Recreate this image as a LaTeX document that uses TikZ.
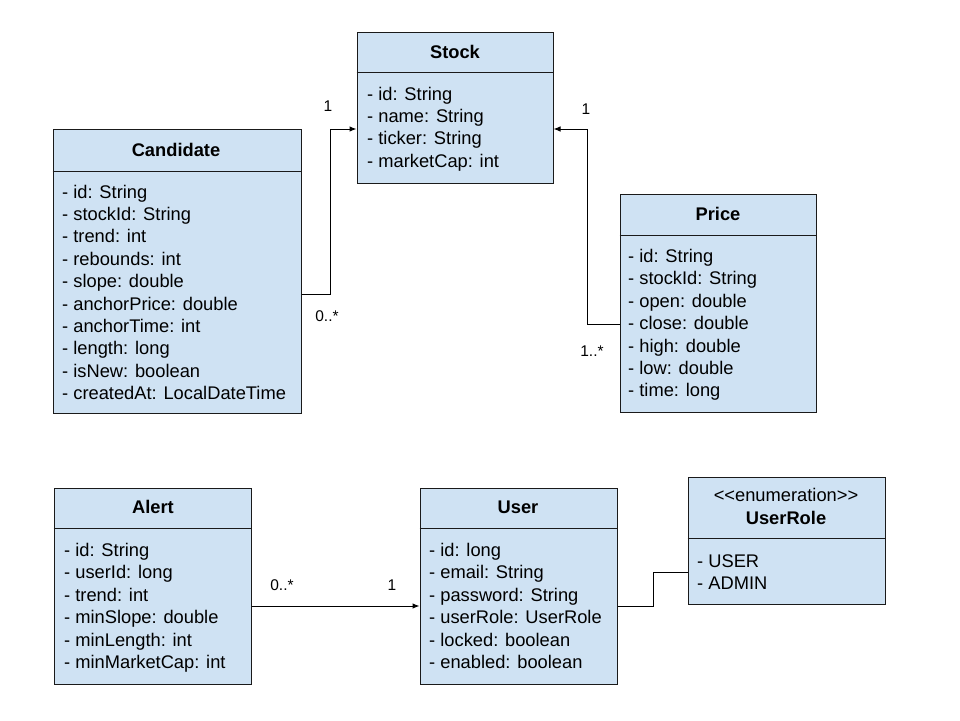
\documentclass[tikz,border=0pt]{standalone}
\usepackage{fontspec}
\newfontfamily\uf{Liberation Sans}
\usetikzlibrary{arrows.meta}
\definecolor{clsfill}{HTML}{CFE2F3}
\definecolor{clsline}{HTML}{1A1A1A}
\tikzset{
  cls/.style={draw=clsline, fill=clsfill, line width=1pt, rectangle, inner sep=0pt},
  divider/.style={draw=clsline, line width=1pt},
  ttl/.style={font=\uf\bfseries\fontsize{18.3}{22}\selectfont, inner sep=0pt, anchor=base},
  attr/.style={font=\uf\fontsize{18.3}{22}\selectfont, inner sep=0pt, anchor=base west},
  lbl/.style={font=\uf\fontsize{15.5}{18}\selectfont, inner sep=0pt},
  conn/.style={draw=black, line width=1pt},
  arr/.style={conn, -{Latex[length=7pt,width=5.5pt]}}
}
\newcommand\attrs[4]{%
  \foreach \t [count=\i] in {#4} {\node[attr] (#1\i) at (#2, {#3+22.4*(\i-1)}) {\t};}}
\begin{document}
\begin{tikzpicture}[x=1pt,y=-1pt]
\useasboundingbox (0,0) rectangle (960,720);
% Stock
\node[cls, minimum width=196pt, minimum height=151pt] (stock) at (455,107.5) {};
\draw[divider] (stock.west |- 0,72) -- (stock.east |- 0,72);
\node[ttl] (stockT) at (455,58) {Stock};
\attrs{stA}{367}{100}{- id: String,- name: String,- ticker: String,- marketCap: int}
% Candidate
\node[cls, minimum width=248pt, minimum height=284pt] (cand) at (177,271) {};
\draw[divider] (cand.west |- 0,171) -- (cand.east |- 0,171);
\node[ttl] (candT) at (176,156.5) {Candidate};
\attrs{caA}{62}{198}{- id: String,- stockId: String,- trend: int,- rebounds: int,- slope: double,- anchorPrice: double,- anchorTime: int,- length: long,- isNew: boolean,- createdAt: LocalDateTime}
% Price
\node[cls, minimum width=196pt, minimum height=218pt] (price) at (718,303) {};
\draw[divider] (price.west |- 0,235) -- (price.east |- 0,235);
\node[ttl] (priceT) at (718,220) {Price};
\attrs{prA}{628}{262.5}{- id: String,- stockId: String,- open: double,- close: double,- high: double,- low: double,- time: long}
% Alert
\node[cls, minimum width=197pt, minimum height=196pt] (alert) at (152.5,586) {};
\draw[divider] (alert.west |- 0,528) -- (alert.east |- 0,528);
\node[ttl] (alertT) at (153,513.5) {Alert};
\attrs{alA}{64}{556.5}{- id: String,- userId: long,- trend: int,- minSlope: double,- minLength: int,- minMarketCap: int}
% User
\node[cls, minimum width=197pt, minimum height=196pt] (user) at (518.5,586) {};
\draw[divider] (user.west |- 0,528) -- (user.east |- 0,528);
\node[ttl] (userT) at (518,513.5) {User};
\attrs{usA}{429}{556.5}{- id: long,- email: String,- password: String,- userRole: UserRole,- locked: boolean,- enabled: boolean}
% UserRole
\node[cls, minimum width=197pt, minimum height=127pt] (role) at (786.5,540.5) {};
\draw[divider] (role.west |- 0,538) -- (role.east |- 0,538);
\node[attr, anchor=base] (roleS) at (786,501) {<<enumeration>>};
\node[ttl] (roleT) at (786,524.5) {UserRole};
\attrs{roA}{697}{567.5}{- USER,- ADMIN}
% connectors
\coordinate (j1) at (330,294);
\coordinate (j2) at (587,324);
\coordinate (j3) at (653,606);
\draw[arr] (cand.east |- j1) -- (j1) |- (stock.west |- 0,129);
\draw[arr] (price.west |- j2) -- (j2) |- (stock.east |- 0,129);
\draw[arr] (alert.east |- 0,606) -- (user.west |- 0,606);
\draw[conn] (user.east |- j3) -- (j3) |- (role.west |- 0,572);
% multiplicities
\node[lbl] (m1) at (328,106) {1};
\node[lbl] (m2) at (327,316) {0..*};
\node[lbl] (m3) at (586,109) {1};
\node[lbl] (m4) at (592,351) {1..*};
\node[lbl] (m5) at (282,585) {0..*};
\node[lbl] (m6) at (392,585) {1};
\end{tikzpicture}
\end{document}
